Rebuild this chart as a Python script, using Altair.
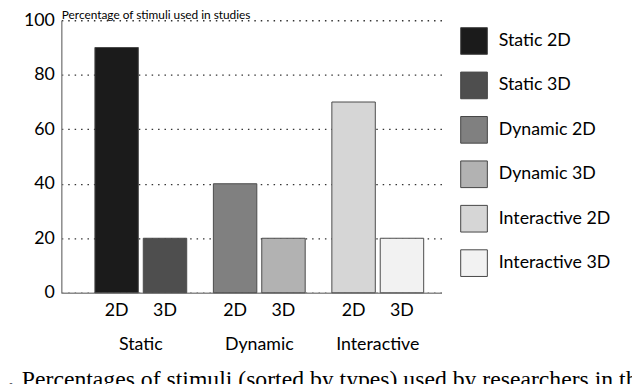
import altair as alt
import pandas as pd

groups = ["Static", "Static", "Dynamic", "Dynamic", "Interactive", "Interactive"]
dims = ["2D", "3D", "2D", "3D", "2D", "3D"]
values = [90, 20, 40, 20, 70, 20]
series = [f"{g} {d}" for g, d in zip(groups, dims)]
group_order = ["Static", "Dynamic", "Interactive"]
grays = ["#1b1b1b", "#4e4e4e", "#808080", "#b2b2b2", "#d6d6d6", "#f2f2f2"]
y_ticks = [0, 20, 40, 60, 80, 100]
y_title = "Percentage of stimuli used in studies"
caption_num = "1."
caption = "Percentages of stimuli (sorted by types) used by researchers in the literature"

df = pd.DataFrame({"group": groups, "dim": dims, "value": values, "series": series})
cap_df = pd.DataFrame({"num": [caption_num], "t": [caption]})

FONT = "Lato"

x = alt.X(
    "group:N",
    sort=group_order,
    scale=alt.Scale(paddingInner=0.225, paddingOuter=0.2167, align=0.654),
    axis=alt.Axis(
        title=None, labelAngle=0, ticks=False, labelPadding=43, labelFontSize=18,
        labelFont=FONT, labelColor="black", domainColor="#8a8a8a", domainWidth=1.5,
    ),
)
xo = alt.XOffset("dim:N", scale=alt.Scale(paddingInner=0.102, paddingOuter=0))

bars = alt.Chart(df).mark_bar(stroke="#4a4a4a", strokeWidth=1).encode(
    x=x,
    xOffset=xo,
    y=alt.Y(
        "value:Q",
        scale=alt.Scale(domain=[0, 100]),
        axis=alt.Axis(
            values=y_ticks, title=y_title, titleAngle=0, titleAlign="left",
            titleX=0, titleY=-2, titleBaseline="alphabetic", titleFontSize=12,
            titleFont=FONT, titleFontWeight="normal", titleColor="black",
            labelFontSize=18, labelFont=FONT, labelColor="black", labelPadding=7,
            ticks=False, grid=True, gridDash=[1.5, 5], gridColor="#333333",
            gridWidth=1.3, domainColor="#8a8a8a", domainWidth=1.5,
        ),
    ),
    color=alt.Color(
        "series:N",
        sort=series,
        scale=alt.Scale(domain=series, range=grays),
        legend=alt.Legend(
            title=None, orient="none", legendX=404, legendY=7,
            symbolType="square", symbolSize=729, symbolStrokeColor="#444444",
            symbolStrokeWidth=1, symbolOpacity=1, labelFontSize=18, labelFont=FONT,
            labelColor="black", labelOffset=11, rowPadding=13,
        ),
    ),
)

dim_labels = alt.Chart(df).mark_text(fontSize=18, font=FONT, baseline="middle", color="black").encode(
    x=alt.X("group:N", sort=group_order),
    xOffset=alt.XOffset("dim:N"),
    y=alt.value(295),
    text="dim:N",
)

cap_num = alt.Chart(cap_df).mark_text(
    font="Liberation Serif", fontSize=24, fontWeight="bold", align="left",
    baseline="alphabetic", color="black",
).encode(x=alt.value(-66), y=alt.value(371), text="num:N")

cap_text = alt.Chart(cap_df).mark_text(
    font="Liberation Serif", fontSize=24, align="left",
    baseline="alphabetic", color="black",
).encode(x=alt.value(-40), y=alt.value(371), text="t:N")

chart = alt.layer(bars, dim_labels, cap_num, cap_text).properties(
    width=385,
    height=276,
    autosize=alt.AutoSizeParams(type="none"),
    padding={"left": 54, "top": 10, "right": 193, "bottom": 90},
    background="white",
).configure_view(stroke=None)

chart.save("out.html", embed_options={"renderer": "svg", "actions": False})
